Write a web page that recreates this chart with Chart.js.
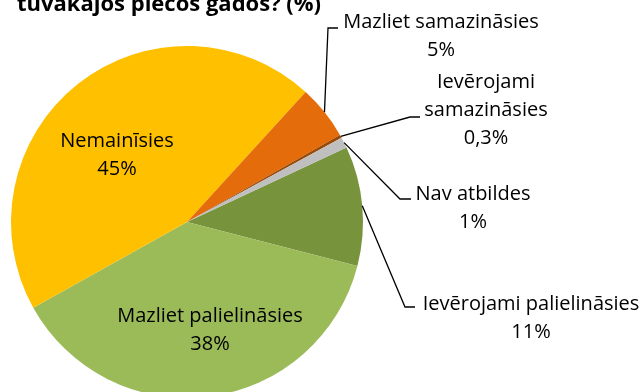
<!DOCTYPE html>
<html><head><meta charset="utf-8">
<script src="https://cdn.jsdelivr.net/npm/chart.js@4/dist/chart.umd.min.js"></script>
<style>
html,body{margin:0;padding:0;overflow:hidden;background:#fff;width:642px;height:392px}
#wrap{position:absolute;left:0;top:0;width:642px;height:400px}
</style></head><body>
<div id="wrap"><canvas id="c"></canvas></div>
<script>
// Survey answers, in drawing order (clockwise)
const titleText = 'tuvākajos piecos gados? (%)';
const categories = ['Ievērojami palielināsies', 'Mazliet palielināsies', 'Nemainīsies',
                    'Mazliet samazināsies', 'Ievērojami samazināsies', 'Nav atbildes'];
const shares = [11, 38, 45, 5, 0.3, 1];
const shareLabels = ['11%', '38%', '45%', '5%', '0,3%', '1%'];

const sliceColors = ['#77933C', '#9BBB59', '#FFC000', '#E46C0A', '#984807', '#BFBFBF'];

// Where each data label sits: inside labels give text centre x + first baseline,
// outside labels also give the elbow and end of their leader line.
const labelPlacement = [
  { x: 531, y: 310, elbow: [405, 307], end: [415, 307] },
  { x: 210, y: 322, inside: true },
  { x: 117, y: 147, inside: true },
  { x: 441, y: 28, elbow: [328, 28], end: [338, 28] },
  { x: 486, y: 88, elbow: [410, 117], end: [420, 117], wrap: true },
  { x: 473, y: 200, elbow: [400, 199], end: [411, 199] }
];

const FONT = '"Open Sans", sans-serif';
const LINE_H = 28;

const titlePlugin = {
  id: 'cutTitle',
  afterDraw(chart) {
    const ctx = chart.ctx;
    ctx.save();
    ctx.font = 'bold 22px ' + FONT;
    ctx.fillStyle = '#000';
    ctx.textAlign = 'left';
    ctx.textBaseline = 'alphabetic';
    ctx.fillText(titleText, 17, 11);
    ctx.restore();
  }
};

const sliceLabels = {
  id: 'sliceLabels',
  afterDatasetsDraw(chart) {
    const ctx = chart.ctx;
    const meta = chart.getDatasetMeta(0);
    ctx.save();
    ctx.font = '20px ' + FONT;
    ctx.fillStyle = '#000';
    ctx.textAlign = 'center';
    ctx.textBaseline = 'alphabetic';
    meta.data.forEach((arc, i) => {
      const p = labelPlacement[i];
      const { x, y, startAngle, endAngle, outerRadius } =
        arc.getProps(['x', 'y', 'startAngle', 'endAngle', 'outerRadius'], true);
      if (!p.inside) {
        const mid = (startAngle + endAngle) / 2;
        const ax = x + Math.cos(mid) * outerRadius;
        const ay = y + Math.sin(mid) * outerRadius;
        ctx.beginPath();
        ctx.moveTo(ax, ay);
        ctx.lineTo(p.elbow[0], p.elbow[1]);
        ctx.lineTo(p.end[0], p.end[1]);
        ctx.strokeStyle = '#000';
        ctx.lineWidth = 1.3;
        ctx.stroke();
      }
      const name = categories[i];
      const lines = p.wrap ? name.split(' ') : [name];
      lines.push(shareLabels[i]);
      lines.forEach((t, k) => ctx.fillText(t, p.x, p.y + k * LINE_H));
    });
    ctx.restore();
  }
};

new Chart(document.getElementById('c'), {
  type: 'pie',
  data: {
    labels: categories,
    datasets: [{
      data: shares,
      backgroundColor: sliceColors,
      borderWidth: 0
    }]
  },
  options: {
    responsive: true,
    maintainAspectRatio: false,
    animation: false,
    rotation: 65,
    layout: { padding: { left: 11, right: 279, top: 46, bottom: 2 } },
    plugins: {
      legend: { display: false },
      tooltip: { enabled: false },
      title: { display: false }
    }
  },
  plugins: [sliceLabels, titlePlugin]
});
</script>
</body></html>
